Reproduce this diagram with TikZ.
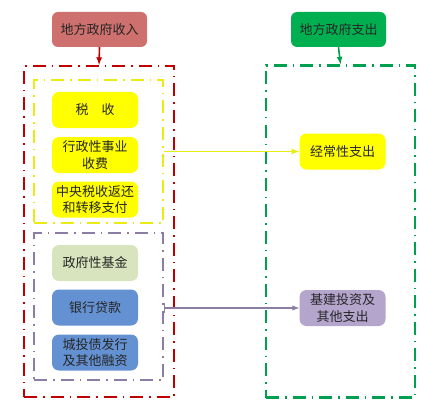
\documentclass[tikz,border=0pt]{standalone}
\usepackage{fontspec}
\setmainfont{Noto Sans CJK SC}
\usepackage{xcolor}
\usetikzlibrary{positioning}

\definecolor{titlered}{RGB}{205,112,110}
\definecolor{titlegreen}{RGB}{0,176,80}
\definecolor{framered}{RGB}{192,0,0}
\definecolor{framegreen}{RGB}{0,160,80}
\definecolor{frameyellow}{RGB}{235,235,20}
\definecolor{framepurple}{RGB}{140,125,165}
\definecolor{itemyellow}{RGB}{255,255,0}
\definecolor{itemgreen}{RGB}{215,228,189}
\definecolor{itemblue}{RGB}{100,145,210}
\definecolor{itempurple}{RGB}{180,165,205}

\begin{document}
\begin{tikzpicture}[x=1pt,y=-1pt,
    title/.style={shape=rectangle, rounded corners=6pt, minimum width=95pt, minimum height=35pt, inner sep=1pt, text=black!85, font=\fontsize{13}{15}\selectfont},
    item/.style={shape=rectangle, rounded corners=7pt, minimum width=86pt, minimum height=36pt, inner sep=1pt, align=center, text=black!85, font=\fontsize{13}{16.5}\selectfont},
    frame/.style={shape=rectangle, draw, line width=2.2pt, dash pattern=on 13pt off 6pt on 1.5pt off 6pt, inner sep=0pt}]
    \useasboundingbox (0,0) rectangle (443,414);

    % titles
    \node[title, fill=titlered] (inc) at (99.5,29.5) {地方政府收入};
    \node[title, fill=titlegreen] (exp) at (338.5,29.5) {地方政府支出};

    % dashed frames
    \node[frame, draw=framered, minimum width=150pt, minimum height=331pt] (incbox) at (99,231.5) {};
    \node[frame, draw=frameyellow, line width=1.8pt, minimum width=129pt, minimum height=143pt] (yelbox) at (98.5,151.5) {};
    \node[frame, draw=framepurple, line width=1.8pt, minimum width=129pt, minimum height=147pt] (purbox) at (98.5,306.5) {};
    \node[frame, draw=framegreen, minimum width=149pt, minimum height=332pt] (expbox) at (340.5,231.5) {};

    % income items
    \node[item, fill=itemyellow] (tax) at (95,110) {税\quad 收};
    \node[item, fill=itemyellow] (fee) at (95,155) {行政性事业\\收费};
    \node[item, fill=itemyellow] (trans) at (95,199.5) {中央税收返还\\和转移支付};
    \node[item, fill=itemgreen] (fund) at (95,263) {政府性基金};
    \node[item, fill=itemblue] (loan) at (95,307.5) {银行贷款};
    \node[item, fill=itemblue] (bond) at (95,352.5) {城投债发行\\及其他融资};

    % expenditure items
    \node[item, fill=itemyellow] (reg) at (342.5,151.5) {经常性支出};
    \node[item, fill=itempurple] (inv) at (342.5,308) {基建投资及\\其他支出};

    % connectors
    \draw[-latex, line width=1.6pt, framered] (inc.south) -- (incbox.north);
    \draw[-latex, line width=1.6pt, framegreen] (exp.south) -- (expbox.north);
    \draw[-latex, line width=1.6pt, frameyellow] (yelbox.east) -- (reg.west);
    \draw[|-latex, line width=1.4pt, framepurple] (purbox.east |- inv.west) -- (inv.west);
\end{tikzpicture}
\end{document}
